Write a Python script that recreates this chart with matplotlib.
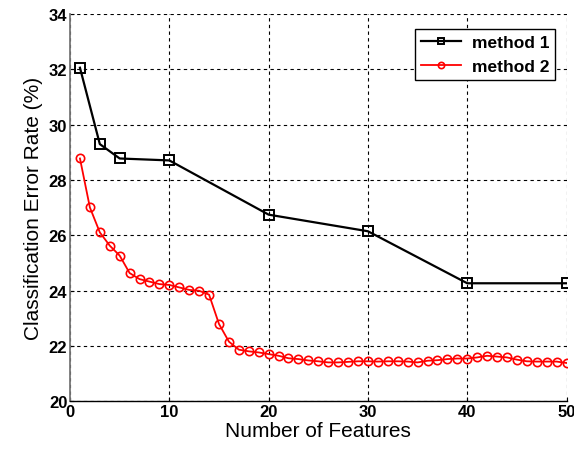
import matplotlib
matplotlib.use("Agg")
import matplotlib.pyplot as plt

plt.rcParams['font.family'] = ['Liberation Sans', 'DejaVu Sans']

m1_x = [1, 3, 5, 10, 20, 30, 40, 50]
m1_y = [32.06, 29.30, 28.78, 28.71, 26.75, 26.15, 24.27, 24.27]

m2_x = list(range(1, 51))
m2_y = [28.78, 27.01, 26.11, 25.63, 25.27, 24.64, 24.42, 24.33, 24.24, 24.21,
        24.12, 24.03, 24.00, 23.86, 22.80, 22.16, 21.87, 21.81, 21.77, 21.71,
        21.65, 21.56, 21.53, 21.48, 21.45, 21.41, 21.41, 21.43, 21.45, 21.45,
        21.44, 21.45, 21.45, 21.44, 21.41, 21.47, 21.49, 21.53, 21.55, 21.55,
        21.59, 21.65, 21.62, 21.59, 21.51, 21.45, 21.44, 21.44, 21.44, 21.39]

x_ticks = [0, 10, 20, 30, 40, 50]
y_ticks = [20, 22, 24, 26, 28, 30, 32, 34]

fig = plt.figure(figsize=(5.74, 4.56), dpi=100)
ax = fig.add_axes([0.122, 0.1175, 0.865, 0.8495])

ax.plot(m1_x, m1_y, color='black', lw=1.6, marker='s', ms=6.5, mfc='none',
        mec='black', mew=1.4, label='method 1', zorder=3)
ax.plot(m2_x, m2_y, color='red', lw=1.3, marker='o', ms=6, mfc='none',
        mec='red', mew=1.2, label='method 2', zorder=3)

ax.set_xlim(0, 50)
ax.set_ylim(20, 34)
ax.set_xticks(x_ticks)
ax.set_yticks(y_ticks)
ax.tick_params(direction='in', labelsize=12, length=3, pad=2)
for lab in ax.get_xticklabels() + ax.get_yticklabels():
    lab.set_fontweight('bold')
ax.grid(True, color='black', linestyle=(0, (3, 3)), linewidth=0.8)
ax.spines['top'].set_visible(False)
ax.spines['right'].set_visible(False)
ax.spines['left'].set_color('#777777')
ax.spines['left'].set_linewidth(1.3)
ax.spines['bottom'].set_color('black')
ax.spines['bottom'].set_linewidth(1.0)

ax.set_xlabel('Number of Features', fontsize=15, labelpad=1)
ax.set_ylabel('Classification Error Rate (%)', fontsize=15, labelpad=4)

leg = ax.legend(loc='upper right', fontsize=12.5, frameon=True, fancybox=False,
                edgecolor='black', framealpha=1, borderpad=0.35,
                handlelength=2.3, handletextpad=0.6, markerscale=0.75,
                bbox_to_anchor=(0.995, 0.985))
leg.get_frame().set_linewidth(1.0)
for t in leg.get_texts():
    t.set_fontweight('bold')

fig.savefig('out.png', dpi=100)
